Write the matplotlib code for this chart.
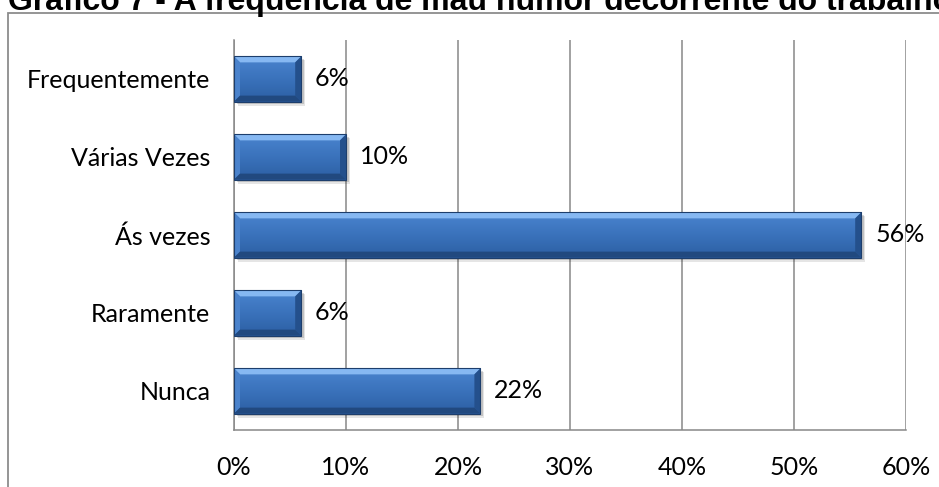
import matplotlib.pyplot as plt
import numpy as np
from matplotlib.patches import Polygon, Rectangle
from matplotlib.colors import LinearSegmentedColormap

categorias = ["Nunca", "Raramente", "Ás vezes", "Várias Vezes", "Frequentemente"]
percentuais = [22, 6, 56, 10, 6]
ticks_x = [0, 10, 20, 30, 40, 50, 60]
titulo = "Gráfico 7 - A frequência de mau humor decorrente do trabalho"

W, H = 939, 487
fig = plt.figure(figsize=(W / 100, H / 100), dpi=100)
fig.patch.set_facecolor("white")

# titulo (cortado no topo) e moldura
fig.text(8 / W, 1 - 10 / H, titulo, ha="left", va="baseline",
         fontsize=23, fontweight="bold", family="Liberation Sans")
fig.patches.append(Rectangle((8 / W, -0.3), 1.5, 1.3 - 13 / H, transform=fig.transFigure,
                             fill=False, edgecolor="#8c8c8c", lw=1.3))

ax = fig.add_axes([234 / W, 1 - 430 / H, 672 / W, 390 / H])
ax.set_facecolor("none")

alt = 0.58
px_x = 672 / 60.0   # pixels por ponto percentual
px_y = 78.0         # pixels por categoria
dx = 6 / px_x
dy = 6 / px_y

face = LinearSegmentedColormap.from_list("face", ["#2c5fa3", "#3a72bb", "#4a84cf"])
grad = np.linspace(0, 1, 64).reshape(-1, 1)

for i, v in enumerate(percentuais):
    yb, yt = i - alt / 2, i + alt / 2
    # sombra
    for off, a in [(4, 0.10), (2.5, 0.15)]:
        ax.add_patch(Rectangle((off / px_x, yb - off / px_y), v, alt,
                               color="black", alpha=a, lw=0, zorder=1))
    ax.imshow(grad, cmap=face, origin="lower", aspect="auto",
              extent=[0, v, yb, yt], interpolation="bicubic", zorder=2)
    # chanfros
    ax.add_patch(Polygon([(0, yt), (v, yt), (v - dx, yt - dy), (dx, yt - dy)],
                         color="#86b8f2", lw=0, zorder=3))
    ax.add_patch(Polygon([(0, yt), (dx, yt - dy), (dx, yb + dy), (0, yb)],
                         color="#4b83cc", lw=0, zorder=3))
    ax.add_patch(Polygon([(v, yt), (v, yb), (v - dx, yb + dy), (v - dx, yt - dy)],
                         color="#24508c", lw=0, zorder=3))
    ax.add_patch(Polygon([(0, yb), (v, yb), (v - dx, yb + dy), (dx, yb + dy)],
                         color="#21497f", lw=0, zorder=3))
    ax.add_patch(Rectangle((0, yb), v, alt, fill=False, edgecolor="#1d3e6c",
                           lw=0.8, zorder=4))
    ax.annotate(f"{v}%", xy=(v, i), xytext=(10, 0), textcoords="offset points",
                va="center", ha="left", fontsize=18, family="Lato", color="black")

ax.set_xlim(0, 60)
ax.set_ylim(-0.5, len(categorias) - 0.5)
ax.set_xticks(ticks_x)
ax.set_xticklabels([f"{t}%" for t in ticks_x])
ax.set_yticks(range(len(categorias)))
ax.set_yticklabels(categorias)
for lab in ax.get_xticklabels() + ax.get_yticklabels():
    lab.set_family("Lato")
    lab.set_fontsize(18)
ax.tick_params(axis="x", length=0, pad=19)
ax.tick_params(axis="y", length=0, pad=17)

ax.set_axisbelow(True)
ax.xaxis.grid(True, color="#888888", lw=1.1)
for s in ["top", "right"]:
    ax.spines[s].set_visible(False)
for s in ["left", "bottom"]:
    ax.spines[s].set_color("#888888")
    ax.spines[s].set_linewidth(1.1)

fig.savefig("out.png", dpi=100)
